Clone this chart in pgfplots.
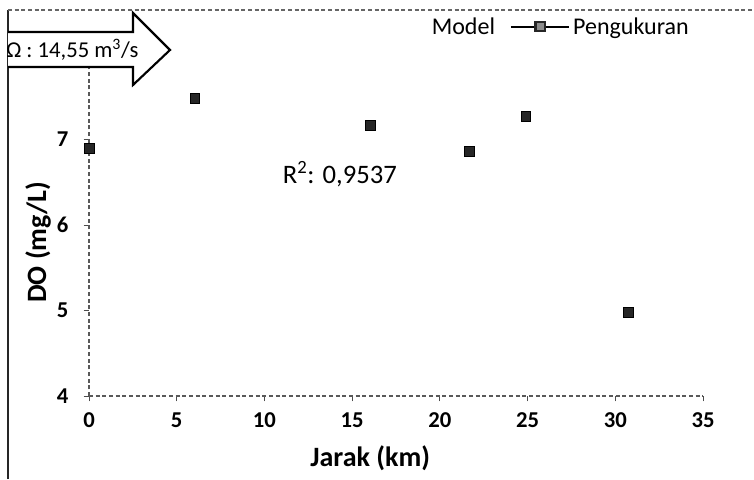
\documentclass[border=0pt]{standalone}
\usepackage{fontspec}
\setmainfont{Carlito}
\usepackage{pgfplots}
\pgfplotsset{compat=1.18}
\begin{document}
\begin{tikzpicture}[x=0.75pt,y=0.75pt]
\path[use as bounding box] (0,0) rectangle (754,479);
\draw[black!85, line width=1.2pt] (8,0) -- (8,469);
\draw[black!60, densely dashed, line width=0.8pt] (8,469) -- (754,469);
\begin{axis}[
  at={(66.75pt,62.25pt)}, anchor=south west,
  scale only axis, width=460.5pt, height=256.5pt,
  xmin=0, xmax=35, ymin=4, ymax=8,
  xtick={0,5,...,35}, ytick={4,5,6,7},
  axis lines*=left,
  axis line style={black!65, densely dashed, line width=0.8pt},
  tick align=outside, major tick length=4pt,
  tick style={black!70, line width=0.6pt},
  /pgf/number format/assume math mode=true,
  ticklabel style={font=\bfseries\fontsize{17}{20}\selectfont},
  xticklabel style={yshift=-5pt},
  yticklabel style={xshift=-8pt},
  xlabel={Jarak (km)},
  xlabel style={at={(axis description cs:0.458,-0.181)}, anchor=center, font=\bfseries\fontsize{21}{24}\selectfont},
  ylabel={DO (mg/L)},
  ylabel style={at={(axis description cs:-0.083,0.45)}, anchor=center, rotate=0, font=\bfseries\fontsize{21}{24}\selectfont},
  legend style={at={(axis description cs:0.547,1.123)}, anchor=north west, draw=none, fill=none,
    font=\fontsize{18}{21}\selectfont, /tikz/every even column/.append style={column sep=9pt}},
  legend columns=2,
  legend cell align=left,
  clip=false,
]
\addlegendimage{empty legend}
\addlegendentry{Model}
\addlegendimage{black, line width=1.6pt, mark=square*, mark size=3.4pt, mark options={fill=black!45, draw=black!85},
  legend image code/.code={\draw[mark repeat=2,mark phase=2] plot coordinates {(0pt,0pt) (22pt,0pt) (44pt,0pt)};}}
\addlegendentry{Pengukuran}
\addplot[only marks, mark=square*, mark size=3.6pt, mark options={fill=black!85, draw=black}, forget plot]
  coordinates {(0,6.9) (6.04,7.48) (16.02,7.17) (21.67,6.86) (24.9,7.27) (30.73,4.98)};
\node[anchor=base west, font=\fontsize{20}{24}\selectfont] at (axis cs:10.78,6.485) {R\textsuperscript{2}: 0,9537};
\end{axis}
\draw[black, line width=1.6pt, fill=white] (8,447) -- (133,447) -- (133,466) -- (170,429) -- (133,394) -- (133,412) -- (8,412);
\node[anchor=west, inner sep=0pt, font=\fontsize{17}{20}\selectfont] at (6,429.5) {Ω : 14,55 m\textsuperscript{3}/s};
\end{tikzpicture}
\end{document}
